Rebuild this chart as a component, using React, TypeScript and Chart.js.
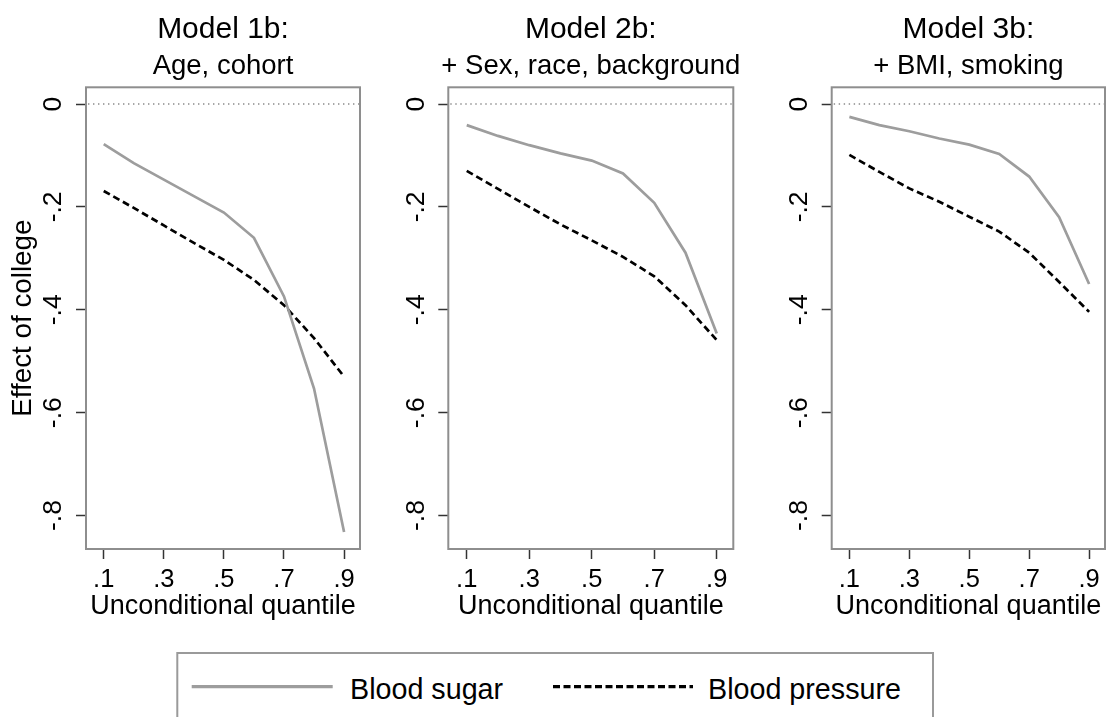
import React, { useEffect, useRef } from "react";
import { Chart, registerables } from "chart.js";

Chart.register(...registerables);

const FONT = '"Liberation Sans", Arial, Helvetica, sans-serif';

// ---- data ----
const quantiles = [0.1, 0.2, 0.3, 0.4, 0.5, 0.6, 0.7, 0.8, 0.9];

const sugarModel1 = [-0.078, -0.115, -0.147, -0.179, -0.211, -0.26, -0.374, -0.553, -0.832];
const pressureModel1 = [-0.169, -0.202, -0.236, -0.27, -0.303, -0.342, -0.391, -0.455, -0.53];

const sugarModel2 = [-0.041, -0.062, -0.08, -0.096, -0.11, -0.135, -0.192, -0.289, -0.446];
const pressureModel2 = [-0.13, -0.165, -0.2, -0.234, -0.265, -0.297, -0.335, -0.391, -0.459];

const sugarModel3 = [-0.025, -0.041, -0.053, -0.067, -0.079, -0.097, -0.141, -0.22, -0.35];
const pressureModel3 = [-0.099, -0.132, -0.164, -0.19, -0.219, -0.248, -0.289, -0.346, -0.404];

const panelTitles = ["Model 1b:", "Model 2b:", "Model 3b:"];
const panelSubtitles = ["Age, cohort", "+ Sex, race, background", "+ BMI, smoking"];

const xTickValues = [0.1, 0.3, 0.5, 0.7, 0.9];
const xTickLabels = [".1", ".3", ".5", ".7", ".9"];
const yTickValues = [0, -0.2, -0.4, -0.6, -0.8];
const yTickLabels = ["0", "-.2", "-.4", "-.6", "-.8"];

const seriesNames = ["Blood sugar", "Blood pressure"];
const xAxisTitle = "Unconditional quantile";
const yAxisTitle = "Effect of college";

const sugarSeries = [sugarModel1, sugarModel2, sugarModel3];
const pressureSeries = [pressureModel1, pressureModel2, pressureModel3];

// ---- layout (positions / sizes) ----
const panelLayouts = [
  { left: 0, width: 370, yWidth: 86, padRight: 10, showYTitle: true },
  { left: 370, width: 370, yWidth: 78.3, padRight: 6.7, showYTitle: false },
  { left: 740, width: 369, yWidth: 91.7, padRight: 4, showYTitle: false },
];

const CANVAS_H = 640;
const PLOT_TOP = 87.3;
const X_AXIS_H = 91;

const SUGAR_COLOR = "#9d9d9d";
const PRESSURE_COLOR = "#000000";
const FRAME_COLOR = "#8e8e8e";
const TICK_COLOR = "#333333";

function Panel({ index }: { index: number }) {
  const ref = useRef<HTMLCanvasElement | null>(null);
  const lay = panelLayouts[index];

  useEffect(() => {
    if (!ref.current) return;
    const framePlugin = {
      id: "framePlugin" + index,
      beforeDatasetsDraw(chart: any) {
        const { ctx, chartArea, scales } = chart;
        const y0 = scales.y.getPixelForValue(0);
        ctx.save();
        ctx.strokeStyle = "#8a8a8a";
        ctx.lineWidth = 1.3;
        ctx.setLineDash([1.4, 3.6]);
        ctx.beginPath();
        ctx.moveTo(chartArea.left + 2, y0);
        ctx.lineTo(chartArea.right - 1, y0);
        ctx.stroke();
        ctx.restore();
      },
      afterDraw(chart: any) {
        const { ctx, chartArea } = chart;
        ctx.save();
        ctx.strokeStyle = FRAME_COLOR;
        ctx.lineWidth = 2;
        ctx.setLineDash([]);
        ctx.strokeRect(
          chartArea.left,
          chartArea.top,
          chartArea.right - chartArea.left,
          chartArea.bottom - chartArea.top
        );
        const cx = (chartArea.left + chartArea.right) / 2;
        ctx.fillStyle = "#000";
        ctx.textAlign = "center";
        ctx.textBaseline = "alphabetic";
        ctx.font = `30px ${FONT}`;
        ctx.fillText(panelTitles[index], cx, 38.3);
        ctx.font = `27.5px ${FONT}`;
        ctx.fillText(panelSubtitles[index], cx, 74);
        ctx.restore();
      },
    };

    const chart = new Chart(ref.current, {
      type: "line",
      data: {
        datasets: [
          {
            label: seriesNames[0],
            data: quantiles.map((q, i) => ({ x: q, y: sugarSeries[index][i] })),
            borderColor: SUGAR_COLOR,
            borderWidth: 2.7,
            pointRadius: 0,
            tension: 0,
            fill: false,
          },
          {
            label: seriesNames[1],
            data: quantiles.map((q, i) => ({ x: q, y: pressureSeries[index][i] })),
            borderColor: PRESSURE_COLOR,
            borderWidth: 2.7,
            borderDash: [7, 4],
            pointRadius: 0,
            tension: 0,
            fill: false,
          },
        ],
      },
      options: {
        responsive: false,
        animation: false,
        layout: { padding: { top: PLOT_TOP, left: 0, right: lay.padRight, bottom: 0 } },
        plugins: {
          legend: { display: false },
          tooltip: { enabled: false },
          title: { display: false },
        },
        scales: {
          x: {
            type: "linear",
            position: "bottom",
            min: 0.041,
            max: 0.953,
            afterBuildTicks: (s: any) => {
              s.ticks = xTickValues.map((v) => ({ value: v }));
            },
            afterFit: (s: any) => {
              s.height = X_AXIS_H;
            },
            grid: {
              drawOnChartArea: false,
              drawTicks: true,
              tickLength: 10,
              tickColor: TICK_COLOR,
              tickWidth: 1.5,
            },
            border: { display: false },
            ticks: {
              autoSkip: false,
              minRotation: 0,
              maxRotation: 0,
              padding: 6,
              color: "#000",
              font: { family: FONT, size: 25.5 },
              callback: (_v: any, i: number) => xTickLabels[i],
            },
            title: {
              display: true,
              text: xAxisTitle,
              color: "#000",
              font: { family: FONT, size: 27 },
              padding: { top: 0, bottom: 17.4 },
            },
          },
          y: {
            type: "linear",
            min: -0.865,
            max: 0.0325,
            afterBuildTicks: (s: any) => {
              s.ticks = yTickValues.map((v) => ({ value: v }));
            },
            afterFit: (s: any) => {
              s.width = lay.yWidth;
            },
            grid: {
              drawOnChartArea: false,
              drawTicks: true,
              tickLength: 10,
              tickColor: TICK_COLOR,
              tickWidth: 1.5,
            },
            border: { display: false },
            ticks: {
              autoSkip: false,
              minRotation: 90,
              maxRotation: 90,
              crossAlign: "center",
              padding: 6.5,
              color: "#000",
              font: { family: FONT, size: 26.5 },
              callback: (_v: any, i: number) => yTickLabels[i],
            },
            title: {
              display: lay.showYTitle,
              text: yAxisTitle,
              color: "#000",
              font: { family: FONT, size: 27.8 },
              padding: { top: 6.5, bottom: 0 },
            },
          },
        },
      } as any,
      plugins: [framePlugin],
    });
    return () => chart.destroy();
  }, [index]);

  return (
    <div style={{ position: "absolute", left: lay.left, top: 0, width: lay.width, height: CANVAS_H }}>
      <canvas ref={ref} width={lay.width} height={CANVAS_H} style={{ display: "block" }} />
    </div>
  );
}

function Legend() {
  return (
    <svg
      width={1109}
      height={77}
      style={{ position: "absolute", left: 0, top: 640, display: "block" }}
    >
      <rect x={177.3} y={13} width={755.7} height={100} fill="none" stroke="#9a9a9a" strokeWidth={2} />
      <line x1={191.7} y1={46.7} x2={332.7} y2={46.7} stroke={SUGAR_COLOR} strokeWidth={3.2} />
      <text x={350} y={59} fontFamily={FONT} fontSize={28.7} fill="#000">
        {seriesNames[0]}
      </text>
      <line
        x1={553}
        y1={46.7}
        x2={693}
        y2={46.7}
        stroke={PRESSURE_COLOR}
        strokeWidth={3.2}
        strokeDasharray="7 3.5"
      />
      <text x={708} y={59} fontFamily={FONT} fontSize={28.7} fill="#000">
        {seriesNames[1]}
      </text>
    </svg>
  );
}

export default function App() {
  return (
    <div
      style={{
        position: "absolute",
        left: 0,
        top: 0,
        width: 1109,
        height: 717,
        overflow: "hidden",
        background: "#fff",
      }}
    >
      {panelLayouts.map((_, i) => (
        <Panel key={i} index={i} />
      ))}
      <Legend />
    </div>
  );
}
